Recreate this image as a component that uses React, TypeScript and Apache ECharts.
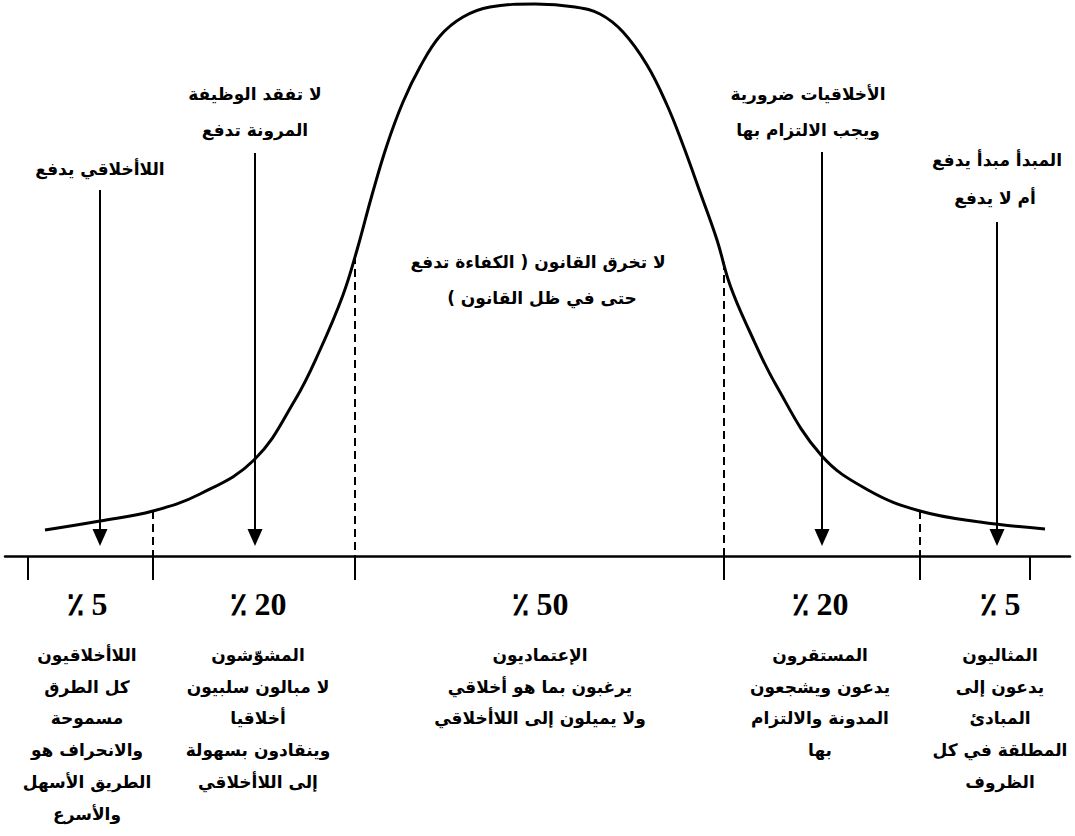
import React, { useEffect, useRef } from "react";
import * as echarts from "echarts";

// Bell curve (x position, height above the baseline)
const curveX = [45, 100, 153, 200, 254, 295, 320, 343, 357, 372, 387, 403, 420, 440, 463, 490, 535, 575, 600, 623, 647, 667, 683, 700, 717, 730, 749, 776, 821, 868, 920, 980, 1045];
const curveH = [26, 35, 45, 62, 96, 156, 206, 261, 306, 361, 411, 454, 489, 520, 539, 549, 552, 549, 542, 524, 491, 451, 411, 364, 316, 271, 226, 171, 101, 66, 45, 34, 27];

// Segment boundaries (dashed) and their heights where they meet the curve
const boundaryX = [153, 355, 724, 920];
const boundaryH = [45, 300, 294, 45];

// Ticks below the baseline
const tickX = [28, 153, 355, 724, 920, 1030];

// Arrows (x, start height, tip height)
const arrowX = [100, 255, 822, 997];
const arrowTop = [366, 403, 404, 334];
const arrowTip = [10, 10, 10, 10];

// Captions above the curve (the trailing RLM keeps the closing bracket on the right-to-left side)
const captionText = [
  "اللاأخلاقي يدفع",
  "لا تفقد الوظيفة",
  "المرونة تدفع",
  "لا تخرق القانون ( الكفاءة تدفع",
  "حتى في ظل القانون )\u200F",
  "الأخلاقيات ضرورية",
  "ويجب الالتزام بها",
  "المبدأ مبدأ يدفع",
  "أم لا يدفع",
];
const captionX = [100, 255, 255, 538, 542, 808, 808, 997, 995];
const captionH = [387, 462, 426, 294, 258, 462, 426, 396, 358];

// Segment shares
const percentLabels = ["٪ 5", "٪ 20", "٪ 50", "٪ 20", "٪ 5"];
const segmentCenterX = [87, 258, 540, 820, 1000];
const percentH = -48;

// Group descriptions (one list per segment)
const groupLines = [
  ["اللاأخلاقيون", "كل الطرق", "مسموحة", "والانحراف هو", "الطريق الأسهل", "والأسرع"],
  ["المشوّشون", "لا مبالون سلبيون", "أخلاقيا", "وينقادون بسهولة", "إلى اللاأخلاقي"],
  ["الإعتماديون", "يرغبون بما هو أخلاقي", "ولا يميلون إلى اللاأخلاقي"],
  ["المستقرون", "يدعون ويشجعون", "المدونة والالتزام", "بها"],
  ["المثاليون", "يدعون إلى", "المبادئ", "المطلقة في كل", "الظروف"],
];
const groupFirstH = -99;
const groupLineStep = 31.7;

const ARABIC = { fontFamily: "DejaVu Sans", fontWeight: "bold", fontSize: 17, fill: "#000" };
const PERCENT = { fontFamily: "Liberation Serif", fontWeight: "bold", fontSize: 32, fill: "#000" };

export default function App() {
  const ref = useRef<HTMLDivElement>(null);

  useEffect(() => {
    if (!ref.current) return;
    const chart = echarts.init(ref.current, null, { renderer: "svg" });

    const labels: { x: number; h: number; text: string; arabic: boolean }[] = [];
    captionText.forEach((t, i) => labels.push({ x: captionX[i], h: captionH[i], text: t, arabic: true }));
    percentLabels.forEach((t, i) => labels.push({ x: segmentCenterX[i], h: percentH, text: t, arabic: false }));
    groupLines.forEach((lines, g) =>
      lines.forEach((t, j) =>
        labels.push({ x: segmentCenterX[g], h: groupFirstH - j * groupLineStep, text: t, arabic: true })
      )
    );

    chart.setOption({
      animation: false,
      backgroundColor: "#ffffff",
      grid: { left: 5, right: 5, top: 0, bottom: 0 },
      xAxis: {
        type: "value",
        min: 5,
        max: 1070,
        axisLine: { show: true, onZero: true, lineStyle: { color: "#000", width: 2.5 } },
        axisTick: { show: false },
        axisLabel: { show: false },
        splitLine: { show: false },
      },
      yAxis: { type: "value", min: -280, max: 556, show: false, splitLine: { show: false } },
      series: [
        {
          type: "line",
          data: curveX.map((x, i) => [x, curveH[i]]),
          smooth: 0.4,
          showSymbol: false,
          symbol: "none",
          lineStyle: { color: "#000", width: 3 },
          silent: true,
          z: 3,
        },
        {
          type: "custom",
          data: boundaryX.map((x, i) => [x, boundaryH[i]]),
          renderItem: (_p: any, api: any) => {
            const a = api.coord([api.value(0), api.value(1)]);
            const b = api.coord([api.value(0), 0]);
            return {
              type: "line",
              shape: { x1: a[0], y1: a[1], x2: b[0], y2: b[1] },
              style: { stroke: "#000", lineWidth: 2, lineDash: [8, 5] },
            };
          },
          z: 2,
        },
        {
          type: "custom",
          data: tickX.map((x) => [x, 0]),
          renderItem: (_p: any, api: any) => {
            const a = api.coord([api.value(0), 0]);
            return {
              type: "line",
              shape: { x1: a[0], y1: a[1], x2: a[0], y2: a[1] + 24 },
              style: { stroke: "#000", lineWidth: 2 },
            };
          },
          z: 2,
        },
        {
          type: "custom",
          data: arrowX.map((x, i) => [x, arrowTop[i], arrowTip[i]]),
          renderItem: (_p: any, api: any) => {
            const a = api.coord([api.value(0), api.value(1)]);
            const b = api.coord([api.value(0), api.value(2)]);
            const headH = 17;
            const headW = 7.5;
            return {
              type: "group",
              children: [
                {
                  type: "line",
                  shape: { x1: a[0], y1: a[1], x2: b[0], y2: b[1] - headH + 2 },
                  style: { stroke: "#000", lineWidth: 2 },
                },
                {
                  type: "polygon",
                  shape: {
                    points: [
                      [b[0] - headW, b[1] - headH],
                      [b[0] + headW, b[1] - headH],
                      [b[0], b[1]],
                    ],
                  },
                  style: { fill: "#000" },
                },
              ],
            };
          },
          z: 4,
        },
        {
          type: "custom",
          data: labels.map((l, i) => [l.x, l.h, i]),
          renderItem: (_p: any, api: any) => {
            const l = labels[api.value(2)];
            const p = api.coord([api.value(0), api.value(1)]);
            const base = l.arabic ? ARABIC : PERCENT;
            return {
              type: "text",
              style: {
                text: l.text,
                x: p[0],
                y: p[1],
                ...base,
                align: "center",
                verticalAlign: "middle",
              },
            };
          },
          z: 5,
        },
      ],
    });

    return () => chart.dispose();
  }, []);

  return (
    <div
      ref={ref}
      style={{ position: "absolute", left: 0, top: 0, width: 1075, height: 836, background: "#fff" }}
    />
  );
}
